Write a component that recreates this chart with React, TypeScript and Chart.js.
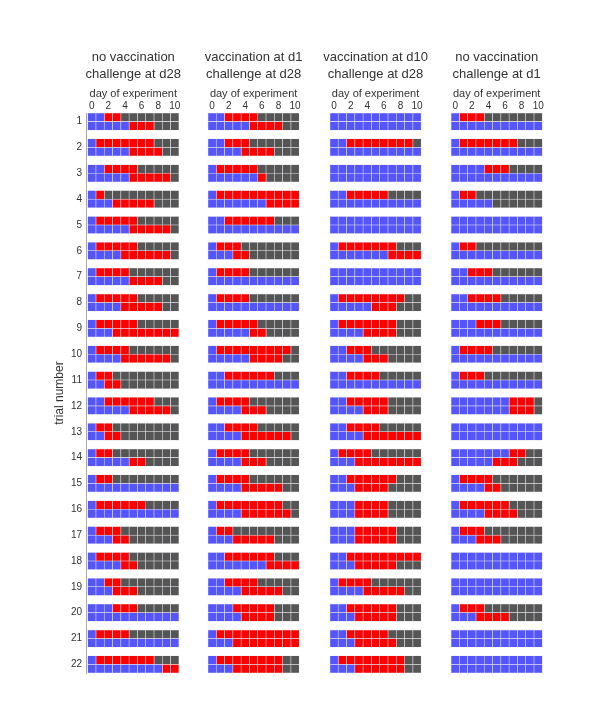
import React, { useEffect, useRef } from "react";
import { Chart, registerables } from "chart.js";

Chart.register(...registerables);

const FONT = '"Liberation Sans", Arial, sans-serif';

const dayTicks = [0, 2, 4, 6, 8, 10];
const nDays = 11;
const trialLabels = Array.from({ length: 22 }, (_, i) => String(i + 1));

const panelTitles = [
  ["no vaccination", "challenge at d28"],
  ["vaccination at d1", "challenge at d28"],
  ["vaccination at d10", "challenge at d28"],
  ["no vaccination", "challenge at d1"],
];
const axisLabel = "day of experiment";

// each row: [days blue, days red]; remaining days grey
const noVacD28Top = [[2,2],[1,7],[2,4],[1,1],[1,5],[1,5],[1,4],[1,5],[1,5],[1,4],[1,2],[2,6],[1,2],[1,2],[1,2],[1,6],[1,3],[1,4],[2,2],[3,3],[1,4],[1,7]];
const noVacD28Bottom = [[5,3],[5,4],[5,5],[3,5],[5,5],[4,6],[5,4],[4,5],[3,8],[4,6],[2,2],[5,5],[2,2],[5,2],[11,0],[11,0],[3,2],[4,2],[3,3],[11,0],[11,0],[9,2]];
const vacD1Top = [[2,4],[2,3],[1,5],[1,10],[2,6],[1,3],[1,4],[1,4],[1,5],[1,9],[2,6],[1,4],[2,4],[1,4],[1,4],[1,8],[1,2],[2,6],[2,4],[3,5],[1,10],[1,8]];
const vacD1Bottom = [[5,4],[4,4],[6,1],[7,4],[11,0],[3,2],[11,0],[11,0],[5,2],[5,4],[11,0],[4,3],[4,6],[4,3],[4,5],[4,6],[3,5],[7,4],[4,5],[4,4],[3,8],[3,6]];
const vacD10Top = [[11,0],[2,8],[11,0],[2,5],[11,0],[1,7],[11,0],[1,8],[1,7],[2,3],[2,4],[2,5],[2,4],[1,4],[2,6],[3,4],[3,5],[2,9],[1,4],[2,6],[2,5],[1,8]];
const vacD10Bottom = [[11,0],[11,0],[11,0],[11,0],[11,0],[7,4],[11,0],[5,3],[4,4],[4,3],[11,0],[4,3],[4,7],[3,8],[3,4],[3,4],[3,5],[3,5],[4,5],[3,5],[3,5],[3,6]];
const noVacD1Top = [[1,3],[1,7],[4,3],[1,2],[11,0],[1,2],[2,3],[2,4],[3,3],[1,4],[1,3],[7,3],[11,0],[7,2],[1,4],[1,6],[1,3],[11,0],[11,0],[1,3],[11,0],[11,0]];
const noVacD1Bottom = [[11,0],[11,0],[11,0],[5,0],[11,0],[11,0],[11,0],[11,0],[11,0],[11,0],[11,0],[7,3],[11,0],[5,3],[4,2],[4,4],[3,3],[11,0],[11,0],[3,4],[11,0],[11,0]];

const panels = [
  [noVacD28Top, noVacD28Bottom],
  [vacD1Top, vacD1Bottom],
  [vacD10Top, vacD10Bottom],
  [noVacD1Top, noVacD1Bottom],
];

const stateNames = ["susceptible", "infected", "removed"];
const stateColors = ["#5555ff", "#ff0000", "#555555"];

// layout: horizontal start of each panel (in day units) and row spacing
const panelOffsets = [0, 14.5, 29.2, 43.8];
const trialPitch = 3;

function cellsFor(state: number) {
  const pts: { x: [number, number]; y: number }[] = [];
  panels.forEach((rows, p) => {
    const off = panelOffsets[p];
    rows.forEach((rowArr, r) => {
      rowArr.forEach(([b, red], k) => {
        for (let d = 0; d < nDays; d++) {
          const s = d < b ? 0 : d < b + red ? 1 : 2;
          if (s === state) pts.push({ x: [off + d, off + d + 1], y: trialPitch * k + r });
        }
      });
    });
  });
  return pts;
}

const headerPlugin = {
  id: "panelHeaders",
  afterDraw(chart: any) {
    const { ctx, scales, chartArea } = chart;
    const x = scales.x;
    ctx.save();
    ctx.fillStyle = "#333";
    ctx.textAlign = "center";
    ctx.textBaseline = "middle";
    panelTitles.forEach((lines, p) => {
      const cx = x.getPixelForValue(panelOffsets[p] + nDays / 2);
      ctx.font = `13px ${FONT}`;
      ctx.fillText(lines[0], cx, chartArea.top - 56);
      ctx.fillText(lines[1], cx, chartArea.top - 39);
      ctx.font = `11px ${FONT}`;
      ctx.fillText(axisLabel, cx, chartArea.top - 19);
    });
    ctx.restore();
  },
};

export default function App() {
  const ref = useRef<HTMLCanvasElement | null>(null);
  useEffect(() => {
    if (!ref.current) return;
    Chart.defaults.font.family = FONT;
    const chart = new Chart(ref.current, {
      type: "bar",
      data: {
        datasets: stateNames.map((name, i) => ({
          label: name,
          data: cellsFor(i) as any,
          backgroundColor: stateColors[i],
          borderColor: "rgba(225,225,230,0.9)",
          borderWidth: 0.6,
          borderSkipped: false,
          grouped: false,
          barPercentage: 1,
          categoryPercentage: 1,
        })),
      },
      options: {
        indexAxis: "y",
        animation: false,
        responsive: true,
        maintainAspectRatio: false,
        layout: { padding: { left: 0, right: 56, top: 0, bottom: 41 } },
        plugins: {
          legend: { display: false },
          tooltip: { enabled: false },
          title: { display: false },
        },
        scales: {
          x: {
            type: "linear",
            position: "top",
            min: -0.2,
            max: 55.0,
            offset: false,
            grid: { display: false, drawTicks: false },
            border: { display: false },
            afterBuildTicks: (s: any) => {
              s.ticks = panelOffsets.flatMap((o) => dayTicks.map((d) => ({ value: o + d + 0.5 })));
            },
            afterFit: (s: any) => {
              s.height = 113;
            },
            ticks: {
              autoSkip: false,
              maxRotation: 0,
              padding: 1,
              color: "#333",
              font: { size: 10 },
              callback: (_v: any, i: number) => String(dayTicks[i % dayTicks.length]),
            },
          },
          y: {
            type: "linear",
            reverse: true,
            min: -0.5,
            max: trialPitch * (trialLabels.length - 1) + 1.5,
            offset: false,
            grid: { display: false, drawTicks: false },
            border: { display: true, color: "#aaaaaa", width: 1 },
            afterBuildTicks: (s: any) => {
              s.ticks = trialLabels.map((_, k) => ({ value: trialPitch * k + 0.5 }));
            },
            afterFit: (s: any) => {
              s.width = 86;
            },
            ticks: {
              autoSkip: false,
              padding: 4,
              color: "#333",
              font: { size: 10 },
              callback: (_v: any, i: number) => trialLabels[i],
            },
            title: {
              display: true,
              text: "trial number",
              color: "#333",
              font: { size: 12 },
              padding: { top: 52, bottom: 0 },
            },
          },
        },
      },
      plugins: [headerPlugin],
    });
    return () => chart.destroy();
  }, []);
  return (
    <div style={{ position: "fixed", left: 0, top: 0, width: 600, height: 714, background: "#fff" }}>
      <canvas ref={ref} />
    </div>
  );
}
